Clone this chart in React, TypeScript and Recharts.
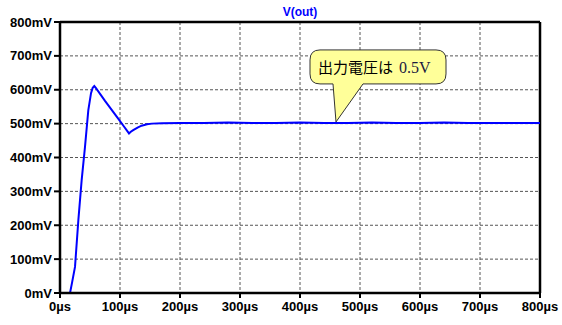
import { LineChart, Line, XAxis, YAxis, CartesianGrid, ReferenceLine, ReferenceDot } from 'recharts';

// time in µs, voltage in mV
const timeUs = [
  0, 16.7, 20, 25, 30.6, 36.1, 41.7, 47.2, 51.7, 54.5, 57.2, 60, 75, 97, 106, 115, 118, 122, 130, 136, 145, 153, 170,
  200, 240, 280, 320, 360, 400, 440, 480, 520, 560, 600, 640, 680, 720, 760, 800,
];
const voutMv = [
  0, 0, 30, 77, 215, 333, 432, 540, 590, 606, 611, 605, 567, 515, 493, 471, 476, 481, 489, 494, 498, 500, 501,
  502, 502, 503, 502, 502, 503, 502, 502, 503, 502, 502, 503, 502, 502, 502, 502,
];

const xTicks = [0, 100, 200, 300, 400, 500, 600, 700, 800];
const yTicks = [0, 100, 200, 300, 400, 500, 600, 700, 800];

const traceName = 'V(out)';
const calloutText = '出力電圧は';
const calloutValue = '0.5V';
const calloutAt = { t: 460, v: 505 };

const data = timeUs.map((t, i) => ({ t, v: voutMv[i] }));

const FONT = '"Liberation Sans", Arial, sans-serif';

function Callout(props: any) {
  const { cx, cy } = props;
  const x0 = cx - 26;
  const x1 = cx + 110;
  const y0 = cy - 72;
  const y1 = cy - 38;
  const r = 10;
  const tl = cx - 3;
  const tr = cx + 27;
  const d = `M ${x0 + r} ${y0} H ${x1 - r} Q ${x1} ${y0} ${x1} ${y0 + r} V ${y1 - r} Q ${x1} ${y1} ${x1 - r} ${y1} H ${tr} L ${cx} ${cy} L ${tl} ${y1} H ${x0 + r} Q ${x0} ${y1} ${x0} ${y1 - r} V ${y0 + r} Q ${x0} ${y0} ${x0 + r} ${y0} Z`;
  return (
    <g>
      <path d={d} fill="#ffff99" stroke="#333" strokeWidth={1} />
      <text x={cx - 18} y={cy - 49} fontSize={15} fill="#000" fontFamily='"Noto Sans CJK JP", sans-serif'>
        {calloutText}
        <tspan dx={6} fontSize={16} fontFamily='"Liberation Serif", "Times New Roman", serif' fill="#1a1a40">
          {calloutValue}
        </tspan>
      </text>
    </g>
  );
}

export default function App() {
  return (
    <div style={{ position: 'absolute', left: 0, top: 0, width: 562, height: 325, background: '#fff' }}>
      <LineChart width={562} height={325} data={data} margin={{ top: 22, right: 22, left: 0, bottom: 0 }}>
        <CartesianGrid stroke="#555" strokeDasharray="3 2" />
        <XAxis
          dataKey="t"
          type="number"
          domain={[0, 800]}
          ticks={xTicks}
          tickFormatter={(v) => `${v}µs`}
          height={32}
          axisLine={{ stroke: '#000', strokeWidth: 2.5 }}
          tickLine={{ stroke: '#000', strokeWidth: 2 }}
          tickSize={5}
          tickMargin={4}
          tick={{ fill: '#000', fontSize: 13, fontWeight: 'bold', fontFamily: FONT }}
          interval={0}
        />
        <YAxis
          type="number"
          domain={[0, 800]}
          ticks={yTicks}
          tickFormatter={(v) => `${v}mV`}
          width={60}
          axisLine={{ stroke: '#000', strokeWidth: 2.5 }}
          tickLine={{ stroke: '#000', strokeWidth: 2 }}
          tickSize={6}
          tickMargin={2}
          tick={{ fill: '#000', fontSize: 13, fontWeight: 'bold', fontFamily: FONT }}
          interval={0}
        />
        <ReferenceLine y={800} stroke="#000" strokeWidth={2.5} />
        <ReferenceLine x={800} stroke="#000" strokeWidth={2.5} />
        <Line
          type="linear"
          dataKey="v"
          stroke="#0000ff"
          strokeWidth={2}
          dot={false}
          isAnimationActive={false}
        />
        <ReferenceDot x={calloutAt.t} y={calloutAt.v} r={0} shape={(p: any) => <Callout {...p} />} />
        <text x={300} y={16} textAnchor="middle" fill="#0000ff" fontSize={12} fontWeight="bold" fontFamily={FONT}>
          {traceName}
        </text>
      </LineChart>
    </div>
  );
}
